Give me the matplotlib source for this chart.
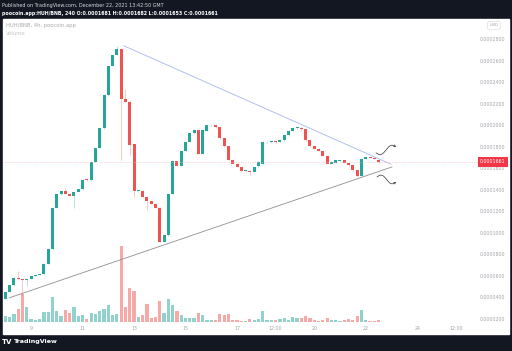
import numpy as np
import matplotlib.pyplot as plt
from matplotlib.patches import Rectangle

# 4h candles, Dec 8 00:00 .. Dec 22 12:00, prices in units of 1e-7 BNB
opens = [385, 447, 509, 581, 565, 556, 568, 599, 605, 612, 711, 851, 1234, 1358, 1386, 1364,
         1342, 1379, 1404, 1500, 1488, 1659, 1789, 1970, 2281, 2551, 2654, 2707, 2241, 2218,
         1821, 1386, 1392, 1332, 1295, 1271, 1234, 913, 975, 1364, 1665, 1625, 1761, 1845,
         1924, 1954, 1737, 1948, 1998, 2001, 1980, 1877, 1805, 1681, 1644, 1612, 1572, 1579,
         1566, 1619, 1644, 1840, 1842, 1852, 1845, 1861, 1908, 1948, 1973, 1976, 1961, 1861,
         1805, 1780, 1761, 1715, 1644, 1650, 1668, 1675, 1650, 1628, 1581, 1528, 1690, 1700,
         1696, 1681]
closes = [447, 509, 581, 565, 556, 568, 593, 605, 612, 711, 851, 1234, 1358, 1386, 1364, 1342,
          1379, 1404, 1495, 1488, 1659, 1789, 1970, 2281, 2551, 2654, 2707, 2241, 2218, 1814,
          1386, 1395, 1332, 1295, 1271, 1234, 913, 975, 1364, 1665, 1625, 1761, 1845, 1924,
          1954, 1737, 1954, 2001, 2004, 1980, 1877, 1805, 1681, 1644, 1612, 1572, 1581, 1566,
          1612, 1659, 1845, 1845, 1852, 1842, 1861, 1908, 1948, 1976, 1980, 1961, 1861, 1805,
          1780, 1761, 1715, 1644, 1659, 1675, 1677, 1650, 1628, 1581, 1525, 1690, 1700, 1696,
          1690, 1661]
highs = [450, 512, 585, 642, 570, 572, 596, 607, 614, 714, 855, 1238, 1362, 1390, 1420, 1368,
         1383, 1408, 1499, 1505, 1663, 1793, 1974, 2285, 2555, 2658, 2740, 2715, 2337, 2222,
         1825, 1399, 1396, 1336, 1299, 1275, 1238, 979, 1368, 1669, 1669, 1765, 1849, 1928,
         1958, 1958, 1958, 2005, 2008, 2005, 1984, 1881, 1809, 1685, 1648, 1616, 1585, 1583,
         1616, 1663, 1849, 1849, 1856, 1856, 1865, 1912, 1952, 1980, 1984, 1980, 1965, 1865,
         1809, 1784, 1765, 1719, 1663, 1679, 1681, 1679, 1654, 1632, 1585, 1694, 1704, 1704,
         1700, 1682]
lows = [380, 445, 505, 560, 416, 500, 565, 597, 603, 610, 708, 848, 1230, 1355, 1360, 1338,
        1234, 1376, 1400, 1484, 1485, 1655, 1785, 1966, 2277, 2547, 2650, 1681, 2214, 1721,
        1332, 1382, 1328, 1215, 1267, 1230, 909, 909, 971, 1360, 1621, 1621, 1757, 1841,
        1920, 1733, 1733, 1944, 1994, 1976, 1873, 1801, 1677, 1640, 1608, 1568, 1568, 1535,
        1562, 1615, 1640, 1836, 1838, 1838, 1841, 1857, 1904, 1944, 1969, 1957, 1857, 1801,
        1776, 1757, 1711, 1640, 1640, 1646, 1664, 1646, 1624, 1577, 1521, 1524, 1686, 1692,
        1686, 1653]
volumes = [6, 5.3, 7.7, 12.7, 27.7, 15, 2.7, 2, 2.7, 10, 10, 25, 11, 6, 11.7, 8.7, 15.5, 6, 7,
           3.3, 8.7, 8.3, 11, 12.7, 17, 7, 7.7, 76, 15, 34.4, 31, 5, 6.7, 17.7, 4.5, 5, 21, 8.7,
           22.7, 16.7, 11, 7, 4.3, 3.7, 4.3, 8.7, 7, 2, 2, 2, 7.7, 7, 7.7, 2, 2, 1.3, 1, 2.7, 2,
           3.3, 11, 2, 2, 2, 2.7, 3.7, 2, 5, 4.3, 3.7, 6, 3.7, 2, 1.3, 2, 4.3, 2, 2, 1.3, 2, 2.7,
           2, 6, 11.7, 2, 1, 1, 1.7]

price_ticks = list(range(200, 2801, 200))
date_ticks = [6, 18, 30, 42, 54, 63, 72, 84, 96, 105]
date_labels = ['9', '11', '13', '15', '17', '12:00', '20', '22', '24', '12:00']
last_price = 1661

# trend lines (candle index, price)
upper_line = ([27.6, 89.9], [2740, 1637])
lower_line = ([0.93, 90.1], [394, 1612])

UP, DN = '#26a69a', '#ef5350'
BG = '#131722'
TXT = '#a3a5ab'

W, H = 512, 351
fig = plt.figure(figsize=(W / 100, H / 100), dpi=100, facecolor=BG)
fig.patches.append(Rectangle((3 / W, 1 - 334 / H), 506 / W, 315 / H,
                             transform=fig.transFigure, color='white', zorder=-1))

rect = [3 / W, 1 - 322 / H, 470 / W, 303 / H]
axv = fig.add_axes(rect)
ax = fig.add_axes(rect, sharex=axv)

x = np.arange(len(opens))
o = np.array(opens, float)
c = np.array(closes, float)
up = c >= o
cols = np.where(up, UP, DN)

# volume
vcols = np.where(up, '#92d2cc', '#f7a9a7')
axv.bar(x, volumes, width=0.75, color=vcols, linewidth=0)
axv.set_ylim(0, 303)
axv.set_facecolor('none')
axv.axis('off')

# candles
ax.vlines(x, lows, highs, colors=cols, linewidth=0.5, alpha=0.45)
ax.bar(x, np.maximum(np.abs(c - o), 7), bottom=np.minimum(o, c), width=0.7,
       color=cols, linewidth=0)

ax.plot(*upper_line, color='#a7b6ee', lw=0.6)
ax.plot(*lower_line, color='#8f8f8f', lw=0.6)

ax.set_xlim(-0.54, 109.0)
ax.set_ylim(169, 2989)
ax.plot([-0.54, 110.2], [last_price, last_price], color='#f4b4b4', lw=0.5,
        ls=(0, (1, 1.5)), clip_on=False)


# hand-drawn squiggle arrows near the apex
def squiggle(x0px, y0px, dxpx, dypx, amp):
    t = np.linspace(0, 1, 60)
    xp = x0px + dxpx * t
    yp = y0px + dypx * t + amp * np.sin(2 * np.pi * t)
    xi = (xp - 5.3) / 4.29
    pr = 2800 - (yp - 39.3) * 9.324
    ax.plot(xi[:-3], pr[:-3], color='#333333', lw=0.5, clip_on=False)
    ax.annotate('', xy=(xi[-1], pr[-1]), xytext=(xi[-4], pr[-4]),
                arrowprops=dict(arrowstyle='->', color='#333333', lw=0.5,
                                mutation_scale=3), annotation_clip=False)


squiggle(376, 152.7, 20, -6, 3)
squiggle(377, 176.7, 19, 5, -3)

for s in ax.spines.values():
    s.set_visible(False)
ax.patch.set_visible(False)
ax.yaxis.tick_right()
ax.set_yticks(price_ticks)
ax.set_yticklabels(['%.7f' % (p * 1e-7) for p in price_ticks], ha='right')
ax.tick_params(axis='y', length=0, pad=23, labelsize=3.4, labelcolor=TXT)
ax.set_xticks(date_ticks)
ax.set_xticklabels(date_labels)
ax.tick_params(axis='x', length=0, pad=3.2, labelsize=3.4, labelcolor=TXT)

# last price tag
fig.text(493 / W, 1 - 161.8 / H, '%.7f' % (last_price * 1e-7), fontsize=3.4,
         color='white', ha='center', va='center',
         bbox=dict(boxstyle='square,pad=0.55', fc='#f23645', ec='none'))
fig.text(494 / W, 1 - 25.5 / H, 'USD', fontsize=3.2, color=TXT, ha='center', va='center',
         bbox=dict(boxstyle='round,pad=0.5,rounding_size=0.8', fc='white', ec='#d6d6d6', lw=0.4))

# header / legend texts
fig.text(2 / W, 1 - 5.5 / H, 'Published on TradingView.com, December 22, 2021 13:42:50 GMT',
         fontsize=3.5, color='#d8d9dc', va='center')
fig.text(2 / W, 1 - 13 / H,
         'poocoin.app:HUH/BNB, 240 O:0.0001681 H:0.0001682 L:0.0001653 C:0.0001661',
         fontsize=3.4, color='white', weight='bold', va='center')
fig.text(6 / W, 1 - 26 / H, 'HUH/BNB, 4h, poocoin.app', fontsize=3.8, color='#a8aab0', va='center')
fig.text(6 / W, 1 - 33.5 / H, 'Volume', fontsize=3.8, color='#c4c6cc', va='center')

# footer logo
fig.text(2 / W, 1 - 342 / H, 'TV', fontsize=5, color='white', weight='heavy', va='center')
fig.text(14 / W, 1 - 342 / H, 'TradingView', fontsize=4.6, color='white', weight='bold',
         va='center')

fig.savefig('out.png', dpi=100, facecolor=BG)
